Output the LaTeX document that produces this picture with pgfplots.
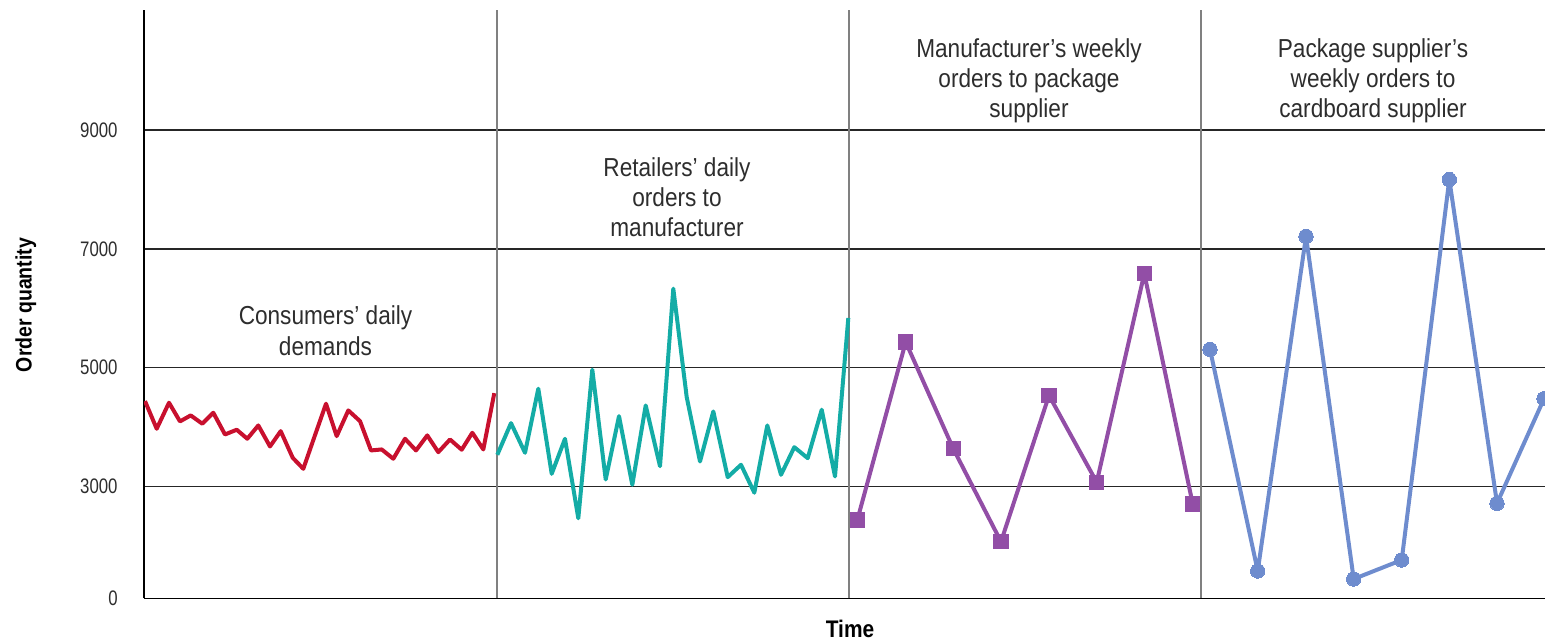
\documentclass[border=0pt]{standalone}
\usepackage{fontspec}
\setmainfont{Liberation Sans}[FakeStretch=0.87]
\newfontfamily\tickfont{Liberation Sans}[FakeStretch=0.8]
\usepackage{pgfplots}
\pgfplotsset{compat=1.18}
\definecolor{cred}{RGB}{200,16,46}
\definecolor{cteal}{RGB}{20,172,166}
\definecolor{cpurple}{RGB}{146,78,166}
\definecolor{cblue}{RGB}{110,140,206}
\definecolor{ctext}{RGB}{45,45,45}
\definecolor{csep}{RGB}{128,128,128}
\begin{document}
\begin{tikzpicture}
\begin{axis}[
  scale only axis, width=700.5pt, height=294.25pt,
  xmin=-1, xmax=1400, ymin=0, ymax=11024,
  y coord trafo/.code={\pgfmathparse{(#1<3000)*0.62867*#1+(#1>=3000)*(#1-1114)}},
  axis x line*=bottom, axis y line*=left,
  axis line style={black, line width=0.8pt},
  xtick=\empty,
  ytick={0,3000,5000,7000,9000},
  yticklabels={0,3000,5000,7000,9000},
  major tick length=0pt,
  ymajorgrids, major grid style={black!85, line width=0.75pt},
  yticklabel style={font=\tickfont\fontsize{10.5}{12}\selectfont, text=ctext, inner sep=0pt, anchor=east, xshift=-13pt},
  clip=true,
  /pgf/number format/assume math mode=true,
]
\coordinate (O) at (rel axis cs:0,0);
\draw[csep, line width=1pt] (axis cs:352,0) -- (axis cs:352,11024);
\draw[csep, line width=1pt] (axis cs:704,0) -- (axis cs:704,11024);
\draw[csep, line width=1pt] (axis cs:1056,0) -- (axis cs:1056,11024);
% Consumers' daily demands
\addplot[cred, line width=2pt, line join=round, mark=none] coordinates {
(0,4438) (11.7,3972) (24,4411) (35,4096) (45.7,4197) (57.3,4057) (68.3,4242) (80,3876)
(91.7,3956) (102.3,3804) (113.3,4028) (125,3674) (135.7,3932) (147.7,3484) (158.3,3298)
(169.5,3840) (181,4394) (191.7,3848) (203.3,4281) (215,4101) (226,3607) (236.7,3624)
(248.3,3467) (260,3804) (271,3607) (282.3,3860) (293.3,3578) (305,3792) (316.7,3619)
(327.3,3905) (338.3,3624) (349.3,4572)};
% Retailers' daily orders
\addplot[cteal, line width=2pt, line join=round, mark=none] coordinates {
(352.3,3534) (366,4067) (380,3568) (393.3,4647) (406.7,3214) (420,3804) (433.3,2148)
(447.3,4967) (460.7,3118) (474,4185) (487.3,3029) (500.7,4365) (515,3342) (528.3,6332)
(541.7,4505) (555,3421) (568.3,4264) (582.7,3157) (596,3366) (609.3,2834) (622.3,4028)
(636,3197) (649.3,3662) (662.7,3477) (676.7,4293) (690,3169) (703.3,5837)};
% Manufacturer's weekly orders
\addplot[cpurple, line width=2pt, line join=round, mark=square*, mark size=3.6pt,
  mark options={fill=cpurple, draw=cpurple, line width=0pt}] coordinates {
(712.3,2103) (760.7,5432) (808.3,3635) (856,1521) (904,4534) (951.7,3072) (999.3,6585) (1047.7,2531)};
% Package supplier's weekly orders
\addplot[cblue, line width=2pt, line join=round, mark=*, mark size=3.6pt,
  mark options={fill=cblue, draw=cblue, line width=0pt}] coordinates {
(1065,5309) (1112.7,737) (1161,7213) (1208.7,522) (1256.7,1031) (1304.3,8169) (1352,2550) (1399,4478)};
\end{axis}
\begin{scope}[shift={(O)}, every node/.style={inner sep=0pt, anchor=base, text=ctext, font=\fontsize{13}{15}\selectfont}]
\node at (90.75pt,136.75pt) {Consumers’ daily};
\node at (90.75pt,121.25pt) {demands};
\node at (266.5pt,210.9pt) {Retailers’ daily};
\node at (266.5pt,195.9pt) {orders to};
\node at (266.5pt,180.9pt) {manufacturer};
\node at (442.5pt,270.6pt) {Manufacturer’s weekly};
\node at (442.5pt,255.6pt) {orders to package};
\node at (442.5pt,240.6pt) {supplier};
\node at (614.5pt,270.6pt) {Package supplier’s};
\node at (614.5pt,255.6pt) {weekly orders to};
\node at (614.5pt,240.6pt) {cardboard supplier};
\node[text=black, font=\fontsize{12}{14}\selectfont\bfseries] at (353pt,-19.6pt) {Time};
\node[text=black, rotate=90, font=\fontsize{11.2}{13}\selectfont\bfseries] at (-56.15pt,146.75pt) {Order quantity};
\end{scope}
\pgfresetboundingbox
\path (O) ++(-72pt,-21.25pt) rectangle ++(772.5pt,320.5pt);
\end{tikzpicture}
\end{document}
